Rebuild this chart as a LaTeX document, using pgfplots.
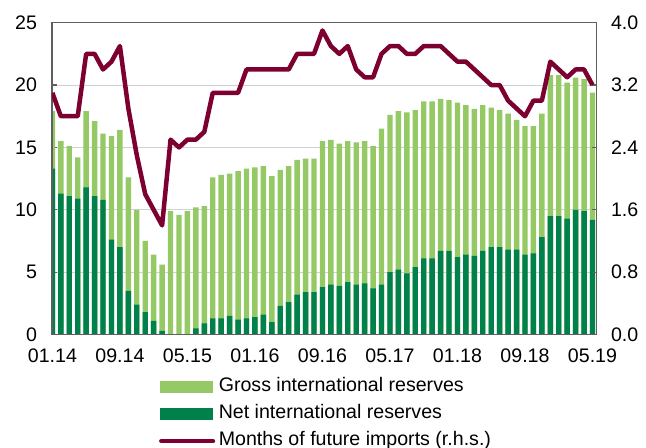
\documentclass[border=0pt]{standalone}
\usepackage{pgfplots}
\pgfplotsset{compat=1.18}
\usepackage{fontspec}
\setmainfont{Liberation Sans}
\definecolor{lightg}{RGB}{148,201,101}
\definecolor{darkg}{RGB}{0,128,74}
\definecolor{maroon}{RGB}{124,0,48}
\definecolor{axisgray}{RGB}{95,95,95}
\definecolor{gridgray}{RGB}{208,208,212}
\pgfplotsset{
  every axis/.append style={
    font=\fontsize{19.6}{22}\selectfont,
    /pgf/number format/assume math mode=true,
    width=545pt, height=312pt, scale only axis,
    at={(0,0)}, anchor=south west,
    xmin=-0.05, xmax=64.5,
    tick align=inside, major tick length=5pt,
    axis line style={draw=axisgray, line width=1.3pt},
    tick style={draw=axisgray, line width=1.2pt},
  },
  lineimg/.style={legend image code/.code={\draw[##1, line cap=round] (0.9pt,0pt) -- (52.5pt,0pt);}},
  lgimg/.style={legend image code/.code={\fill[lightg] (0pt,-5.3pt) rectangle (52pt,5.3pt);}},
  dgimg/.style={legend image code/.code={\fill[darkg] (0pt,-5.3pt) rectangle (52pt,5.3pt);}},
}
\begin{document}
\begin{tikzpicture}
\begin{axis}[name=main,
  ymin=0, ymax=25, ytick={0,5,10,15,20,25}, ytick pos=left,
  xtick={0,8,16,24,32,40,48,56,64},
  xticklabels={01.14,09.14,05.15,01.16,09.16,05.17,01.18,09.18,05.19},
  xtick pos=bottom,
  ymajorgrids, grid style={draw=gridgray, line width=0.9pt},
  yticklabel style={xshift=-11.5pt},
  xticklabel style={yshift=-10.9pt},
]
\addplot[ybar, bar width=5.4pt, bar shift=0pt, fill=lightg, draw=none] coordinates {
(0,17.9)(1,15.5)(2,15.1)(3,14.2)(4,17.9)(5,17.1)(6,16.1)(7,15.9)(8,16.4)(9,12.6)
(10,10.0)(11,7.5)(12,6.4)(13,5.6)(14,9.9)(15,9.6)(16,9.9)(17,10.2)(18,10.3)(19,12.6)
(20,12.8)(21,12.9)(22,13.1)(23,13.3)(24,13.4)(25,13.5)(26,12.7)(27,13.2)(28,13.5)(29,14.0)
(30,14.1)(31,14.1)(32,15.5)(33,15.6)(34,15.3)(35,15.5)(36,15.4)(37,15.5)(38,15.1)(39,16.5)
(40,17.6)(41,17.9)(42,17.8)(43,18.0)(44,18.7)(45,18.7)(46,18.9)(47,18.8)(48,18.6)(49,18.4)
(50,18.1)(51,18.4)(52,18.2)(53,18.0)(54,17.7)(55,17.2)(56,16.7)(57,16.7)(58,17.7)(59,20.8)
(60,20.8)(61,20.2)(62,20.6)(63,20.5)(64,19.4)
};
\addplot[ybar, bar width=5.4pt, bar shift=0pt, fill=darkg, draw=none] coordinates {
(0,13.3)(1,11.3)(2,11.1)(3,10.9)(4,11.8)(5,11.1)(6,10.8)(7,7.6)(8,7.0)(9,3.5)
(10,2.4)(11,1.8)(12,1.1)(13,0.3)(14,0)(15,0)(16,0)(17,0.5)(18,0.9)(19,1.3)
(20,1.3)(21,1.5)(22,1.2)(23,1.3)(24,1.4)(25,1.6)(26,1.0)(27,2.3)(28,2.6)(29,3.2)
(30,3.4)(31,3.4)(32,3.8)(33,4.0)(34,3.9)(35,4.2)(36,4.0)(37,4.1)(38,3.7)(39,4.0)
(40,5.0)(41,5.2)(42,4.9)(43,5.4)(44,6.1)(45,6.1)(46,6.7)(47,6.7)(48,6.2)(49,6.4)
(50,6.3)(51,6.7)(52,7.0)(53,7.0)(54,6.8)(55,6.8)(56,6.4)(57,6.5)(58,7.8)(59,9.5)
(60,9.5)(61,9.3)(62,10.0)(63,9.9)(64,9.2)
};
\end{axis}
\begin{axis}[
  ymin=0, ymax=4, ytick={0,0.8,1.6,2.4,3.2,4.0}, ytick pos=right,
  yticklabel style={xshift=10.8pt, /pgf/number format/.cd, fixed, fixed zerofill, precision=1},
  xtick=\empty,
  legend cell align=left,
  legend style={at={(axis description cs:0.1967,-0.1401)}, anchor=north west,
    draw=none, fill=none, inner sep=0pt, outer sep=0pt, row sep=10.2pt, column sep=3.6pt,
    nodes={inner sep=0pt, text height=13pt, text depth=4pt}},
]
\addlegendimage{lgimg}
\addlegendentry{Gross international reserves}
\addlegendimage{dgimg}
\addlegendentry{Net international reserves}
\addplot[maroon, line width=4.5pt, line join=round, mark=none, lineimg] coordinates {
(0,3.1)(1,2.8)(2,2.8)(3,2.8)(4,3.6)(5,3.6)(6,3.4)(7,3.5)(8,3.7)(9,2.9)
(10,2.3)(11,1.8)(12,1.6)(13,1.4)(14,2.5)(15,2.4)(16,2.5)(17,2.5)(18,2.6)(19,3.1)
(20,3.1)(21,3.1)(22,3.1)(23,3.4)(24,3.4)(25,3.4)(26,3.4)(27,3.4)(28,3.4)(29,3.6)
(30,3.6)(31,3.6)(32,3.9)(33,3.7)(34,3.6)(35,3.7)(36,3.4)(37,3.3)(38,3.3)(39,3.6)
(40,3.7)(41,3.7)(42,3.6)(43,3.6)(44,3.7)(45,3.7)(46,3.7)(47,3.6)(48,3.5)(49,3.5)
(50,3.4)(51,3.3)(52,3.2)(53,3.2)(54,3.0)(55,2.9)(56,2.8)(57,3.0)(58,3.0)(59,3.5)
(60,3.4)(61,3.3)(62,3.4)(63,3.4)(64,3.2)
};
\addlegendentry{Months of future imports (r.h.s.)}
\end{axis}
\pgfresetboundingbox
\useasboundingbox ([xshift=-52pt,yshift=-113pt]main.south west) rectangle ([xshift=49.3pt,yshift=22.7pt]main.north east);
\end{tikzpicture}
\end{document}
